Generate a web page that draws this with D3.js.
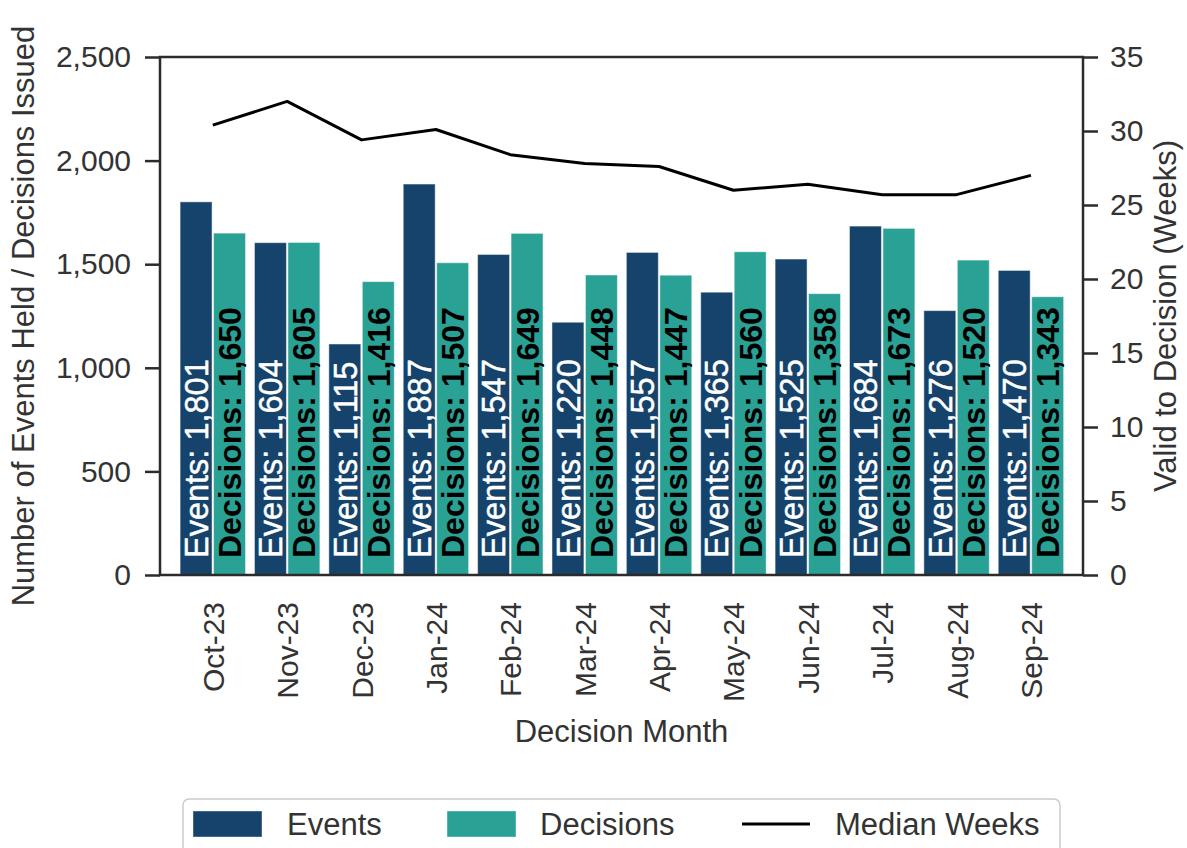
<!DOCTYPE html>
<html>
<head>
<meta charset="utf-8">
<script src="https://cdn.jsdelivr.net/npm/d3@7"></script>
<style>
  html, body { margin: 0; padding: 0; background: #fff; }
  svg { display: block; font-family: "Liberation Sans", Arial, Helvetica, sans-serif; }
</style>
</head>
<body>
<svg id="chart" width="1187" height="848"></svg>
<script>
const months = ["Oct-23","Nov-23","Dec-23","Jan-24","Feb-24","Mar-24","Apr-24","May-24","Jun-24","Jul-24","Aug-24","Sep-24"];
const events = [1801,1604,1115,1887,1547,1220,1557,1365,1525,1684,1276,1470];
const decisions = [1650,1605,1416,1507,1649,1448,1447,1560,1358,1673,1520,1343];
const medianWeeks = [30.4,32.0,29.4,30.1,28.4,27.8,27.6,26.0,26.4,25.7,25.7,27.0];
const leftTicks = [0,500,1000,1500,2000,2500];
const rightTicks = [0,5,10,15,20,25,30,35];
const seriesNames = ["Events","Decisions","Median Weeks"];

const colEvents = "#16436b", colDecisions = "#2aa195", axisCol = "#2b2b2b", textCol = "#333333";
const svg = d3.select("#chart");
const L = 160, R = 1083, T = 57, B = 575;

const x = d3.scaleLinear().domain([-0.71, 11.70]).range([L, R]);
const yL = d3.scaleLinear().domain([0, 2500]).range([B, T]);
const yR = d3.scaleLinear().domain([0, 35]).range([B, T]);

const barW = 0.43, off = 0.225;
const g = svg.append("g");

// bars
g.selectAll("rect.ev").data(events).join("rect").attr("class","ev")
  .attr("x", (d,i) => x(i - off - barW/2)).attr("width", x(barW) - x(0))
  .attr("y", d => yL(d)).attr("height", d => yL(0) - yL(d))
  .attr("fill", colEvents).attr("stroke", "#ffffff").attr("stroke-opacity", 0.5).attr("stroke-width", 1);
g.selectAll("rect.de").data(decisions).join("rect").attr("class","de")
  .attr("x", (d,i) => x(i + off - barW/2)).attr("width", x(barW) - x(0))
  .attr("y", d => yL(d)).attr("height", d => yL(0) - yL(d))
  .attr("fill", colDecisions).attr("stroke", "#ffffff").attr("stroke-opacity", 0.5).attr("stroke-width", 1);

// bar labels
const fmt = d3.format(",");
g.selectAll("text.evl").data(events).join("text").attr("class","evl")
  .attr("transform", (d,i) => `translate(${x(i - off)},${yL(0) - 17}) rotate(-90)`)
  .attr("dy", "0.36em").attr("fill", "#ffffff").attr("font-size", 32.5)
  .attr("stroke", "#ffffff").attr("stroke-width", 0.5)
  .text(d => `Events: ${fmt(d)}`);
g.selectAll("text.del").data(decisions).join("text").attr("class","del")
  .attr("transform", (d,i) => `translate(${x(i + off)},${yL(0) - 17}) rotate(-90)`)
  .attr("dy", "0.36em").attr("fill", "#000000").attr("font-size", 32).attr("font-weight", "bold")
  .text(d => `Decisions: ${fmt(d)}`);

// median line
const line = d3.line().x((d,i) => x(i)).y(d => yR(d));
g.append("path").datum(medianWeeks).attr("d", line)
  .attr("fill", "none").attr("stroke", "#000").attr("stroke-width", 3).attr("stroke-linejoin", "round");

// axes
const axL = d3.axisLeft(yL).tickValues(leftTicks).tickFormat(d3.format(",")).tickSize(15).tickPadding(14);
const axR = d3.axisRight(yR).tickValues(rightTicks).tickSize(15).tickPadding(12);
const gl = svg.append("g").attr("transform", `translate(${L},0)`).call(axL);
const gr = svg.append("g").attr("transform", `translate(${R},0)`).call(axR);
[gl, gr].forEach(a => {
  a.attr("font-family", null);
  a.select(".domain").remove();
  a.selectAll(".tick line").attr("stroke", axisCol).attr("stroke-width", 2.5);
  a.selectAll(".tick text").attr("fill", textCol).attr("font-size", 30);
});

// x labels
const gx = svg.append("g").attr("transform", `translate(0,${B})`)
  .call(d3.axisBottom(x).tickValues(d3.range(months.length)).tickFormat(i => months[i]).tickSize(0).tickPadding(0));
gx.select(".domain").remove();
gx.attr("font-family", null);
gx.selectAll(".tick text").attr("fill", textCol).attr("font-size", 30)
  .attr("transform", "translate(0,27) rotate(-90)").attr("text-anchor", "end").attr("dy", "0.35em").attr("y", 0).attr("x", 0);

// frame
svg.append("rect").attr("x", L).attr("y", T).attr("width", R - L).attr("height", B - T)
  .attr("fill", "none").attr("stroke", axisCol).attr("stroke-width", 2.5);

// axis titles
svg.append("text").attr("transform", `translate(34,${(T+B)/2}) rotate(-90)`).attr("text-anchor", "middle")
  .attr("fill", textCol).attr("font-size", 31).text("Number of Events Held / Decisions Issued");
svg.append("text").attr("transform", `translate(1176,${(T+B)/2}) rotate(-90)`).attr("text-anchor", "middle")
  .attr("fill", textCol).attr("font-size", 31).text("Valid to Decision (Weeks)");
svg.append("text").attr("x", (L+R)/2).attr("y", 742).attr("text-anchor", "middle")
  .attr("fill", textCol).attr("font-size", 31).text("Decision Month");

// legend
const lg = svg.append("g");
lg.append("rect").attr("x", 183).attr("y", 799).attr("width", 877).attr("height", 70).attr("rx", 6)
  .attr("fill", "#fff").attr("stroke", "#cccccc").attr("stroke-width", 1.5);
const legItems = [
  {name: seriesNames[0], type: "rect", color: colEvents, x0: 193, tx: 287},
  {name: seriesNames[1], type: "rect", color: colDecisions, x0: 447, tx: 540},
  {name: seriesNames[2], type: "line", color: "#000", x0: 742, tx: 835}
];
legItems.forEach(it => {
  if (it.type === "rect") {
    lg.append("rect").attr("x", it.x0).attr("y", 811).attr("width", 69).attr("height", 26)
      .attr("fill", it.color).attr("stroke", "#ffffff").attr("stroke-opacity", 0.4);
  } else {
    lg.append("line").attr("x1", it.x0).attr("x2", it.x0 + 68).attr("y1", 824).attr("y2", 824)
      .attr("stroke", it.color).attr("stroke-width", 3);
  }
  lg.append("text").attr("x", it.tx).attr("y", 824).attr("dy", "0.35em").attr("fill", textCol)
    .attr("font-size", 31).text(it.name);
});
</script>
</body>
</html>
